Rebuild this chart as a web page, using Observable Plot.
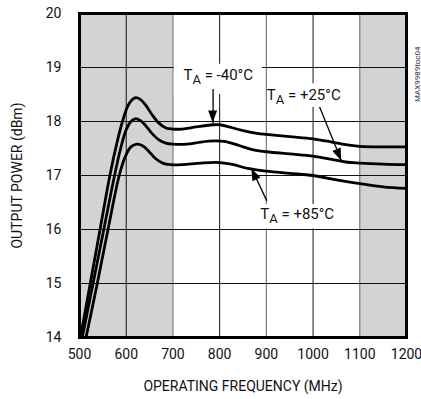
<!DOCTYPE html>
<html><head><meta charset="utf-8">
<script src="https://cdn.jsdelivr.net/npm/d3@7"></script>
<script src="https://cdn.jsdelivr.net/npm/@observablehq/plot@0.6"></script>
<style>
body{margin:0;background:#fff}
#chart svg{font-family:Roboto,"Liberation Sans",sans-serif}
</style>
</head><body><div id="chart"></div>
<script>
// Series: T_A = -40°C
const freqM40 = [502,523,544,565,580,592,603,612,620,630,642,655,670,685,700,720,750,785,800,820,850,880,900,950,1000,1040,1070,1100,1150,1200];
const powM40  = [14.0,15.0,16.0,17.0,17.6,18.0,18.28,18.40,18.44,18.41,18.30,18.13,17.97,17.88,17.86,17.86,17.90,17.94,17.94,17.90,17.83,17.78,17.76,17.72,17.68,17.62,17.57,17.54,17.53,17.53];
// Series: T_A = +25°C
const freqP25 = [506,529,552,575,588,600,610,619,630,642,655,670,685,700,730,760,790,810,840,870,900,950,1000,1040,1070,1100,1150,1200];
const powP25  = [14.0,15.0,16.0,17.0,17.5,17.85,18.0,18.05,18.02,17.92,17.78,17.66,17.60,17.58,17.58,17.62,17.64,17.63,17.56,17.48,17.44,17.40,17.36,17.30,17.25,17.23,17.21,17.20];
// Series: T_A = +85°C
const freqP85 = [514,538,561,585,598,610,623,635,648,662,678,695,720,760,800,830,860,900,950,1000,1050,1100,1150,1200];
const powP85  = [14.0,15.0,16.0,17.0,17.35,17.53,17.58,17.55,17.45,17.32,17.23,17.20,17.20,17.23,17.24,17.20,17.13,17.08,17.04,17.00,16.92,16.85,16.79,16.76];

const seriesNames = ["TA = -40°C","TA = +25°C","TA = +85°C"];
const xTicks = [500,600,700,800,900,1000,1100,1200];
const yTicks = [14,15,16,17,18,19,20];
const gridDarkX = [600,800,1000];
const gridLightX = [700,900,1100];
const shadeStart = [500,1100];
const shadeEnd = [700,1200];

// Annotations (data units)
const labelText = ["TA = -40°C","TA = +25°C","TA = +85°C"];
const labelF = [797,980,966];
const labelP = [18.86,18.48,16.28];
const boxF1 = [703,905,883];
const boxF2 = [892,1071,1046];
const boxP1 = [18.50,18.26,16.01];
const boxP2 = [19.06,18.70,16.46];
const arrowF1 = [786,1014,901];
const arrowP1 = [18.60,18.27,16.53];
const arrowF2 = [786,1061,869];
const arrowP2 = [17.97,17.27,17.12];

const seriesF = [freqM40,freqP25,freqP85];
const seriesP = [powM40,powP25,powP85];
const data = seriesNames.flatMap((s,k)=>seriesF[k].map((f,i)=>({s,f,p:seriesP[k][i]})));
const shades = shadeStart.map((a,i)=>({a,b:shadeEnd[i]}));
const boxes = boxF1.map((f1,i)=>({f1,f2:boxF2[i],p1:boxP1[i],p2:boxP2[i]}));
const labels = labelText.map((t,i)=>({t,f:labelF[i],p:labelP[i]}));
const arrows = arrowF1.map((f1,i)=>({f1,p1:arrowP1[i],f2:arrowF2[i],p2:arrowP2[i]}));

const plot = Plot.plot({
  width:421, height:399,
  marginLeft:79, marginRight:15, marginTop:13, marginBottom:62,
  style:{fontSize:"14px", background:"#fff", color:"#111"},
  x:{domain:[500,1200]},
  y:{domain:[14,20]},
  marks:[
    Plot.rectX(shades,{x1:"a",x2:"b",y1:14,y2:20,fill:"#d2d3d5"}),
    Plot.ruleX(gridLightX,{stroke:"#7a7a7a",strokeWidth:1.2}),
    Plot.ruleX(gridDarkX,{stroke:"#111",strokeWidth:1}),
    Plot.ruleY(yTicks.slice(1,-1),{stroke:"#111",strokeWidth:1}),
    Plot.rect(boxes,{x1:"f1",x2:"f2",y1:"p1",y2:"p2",fill:"#fff"}),
    Plot.line(data,{x:"f",y:"p",z:"s",stroke:"#000",strokeWidth:2.8,curve:"catmull-rom"}),
    Plot.link(arrows,{x1:"f1",y1:"p1",x2:"f2",y2:"p2",stroke:"#000",strokeWidth:1.3}),
    Plot.text(labels,{x:"f",y:"p",text:"t",fontSize:15,fill:"#111"}),
    Plot.frame({stroke:"#000",strokeWidth:3}),
    Plot.axisX(xTicks,{tickSize:0,tickPadding:12,fontSize:14,tickFormat:"d",label:"OPERATING FREQUENCY (MHz)",labelAnchor:"center",labelOffset:53,labelArrow:false}),
    Plot.axisY(yTicks,{tickSize:0,tickPadding:18,fontSize:14,tickFormat:"d",label:"OUTPUT POWER (dBm)",labelAnchor:"center",labelOffset:67,labelArrow:false}),
    Plot.text(["MAX9989toc04"],{frameAnchor:"top-right",dx:8,dy:33,rotate:-90,fontSize:8,fill:"#333"})
  ]
});
document.getElementById("chart").appendChild(plot);

// filled arrow heads using the plot's own scales
const sx = plot.scale("x"), sy = plot.scale("y");
const svg = d3.select(plot);
arrows.forEach(a=>{
  const x1=sx.apply(a.f1), y1=sy.apply(a.p1), x2=sx.apply(a.f2), y2=sy.apply(a.p2);
  const L=Math.hypot(x2-x1,y2-y1), ux=(x2-x1)/L, uy=(y2-y1)/L;
  const hl=12, hw=4.5;
  const bx=x2-ux*hl, by=y2-uy*hl;
  svg.append("polygon").attr("fill","#000")
    .attr("points",[[x2,y2],[bx-uy*hw,by+ux*hw],[bx+uy*hw,by-ux*hw]].map(p=>p.join(",")).join(" "));
});
// subscript "A" in the labels
svg.selectAll("text").each(function(){
  const t=this.textContent;
  if(t.startsWith("TA = ")){
    const el=d3.select(this); el.text("");
    el.append("tspan").text("T");
    el.append("tspan").attr("dy","4").attr("font-size","13").text("A");
    el.append("tspan").attr("dy","-4").text(t.slice(2));
  }
});
</script>
</body></html>
